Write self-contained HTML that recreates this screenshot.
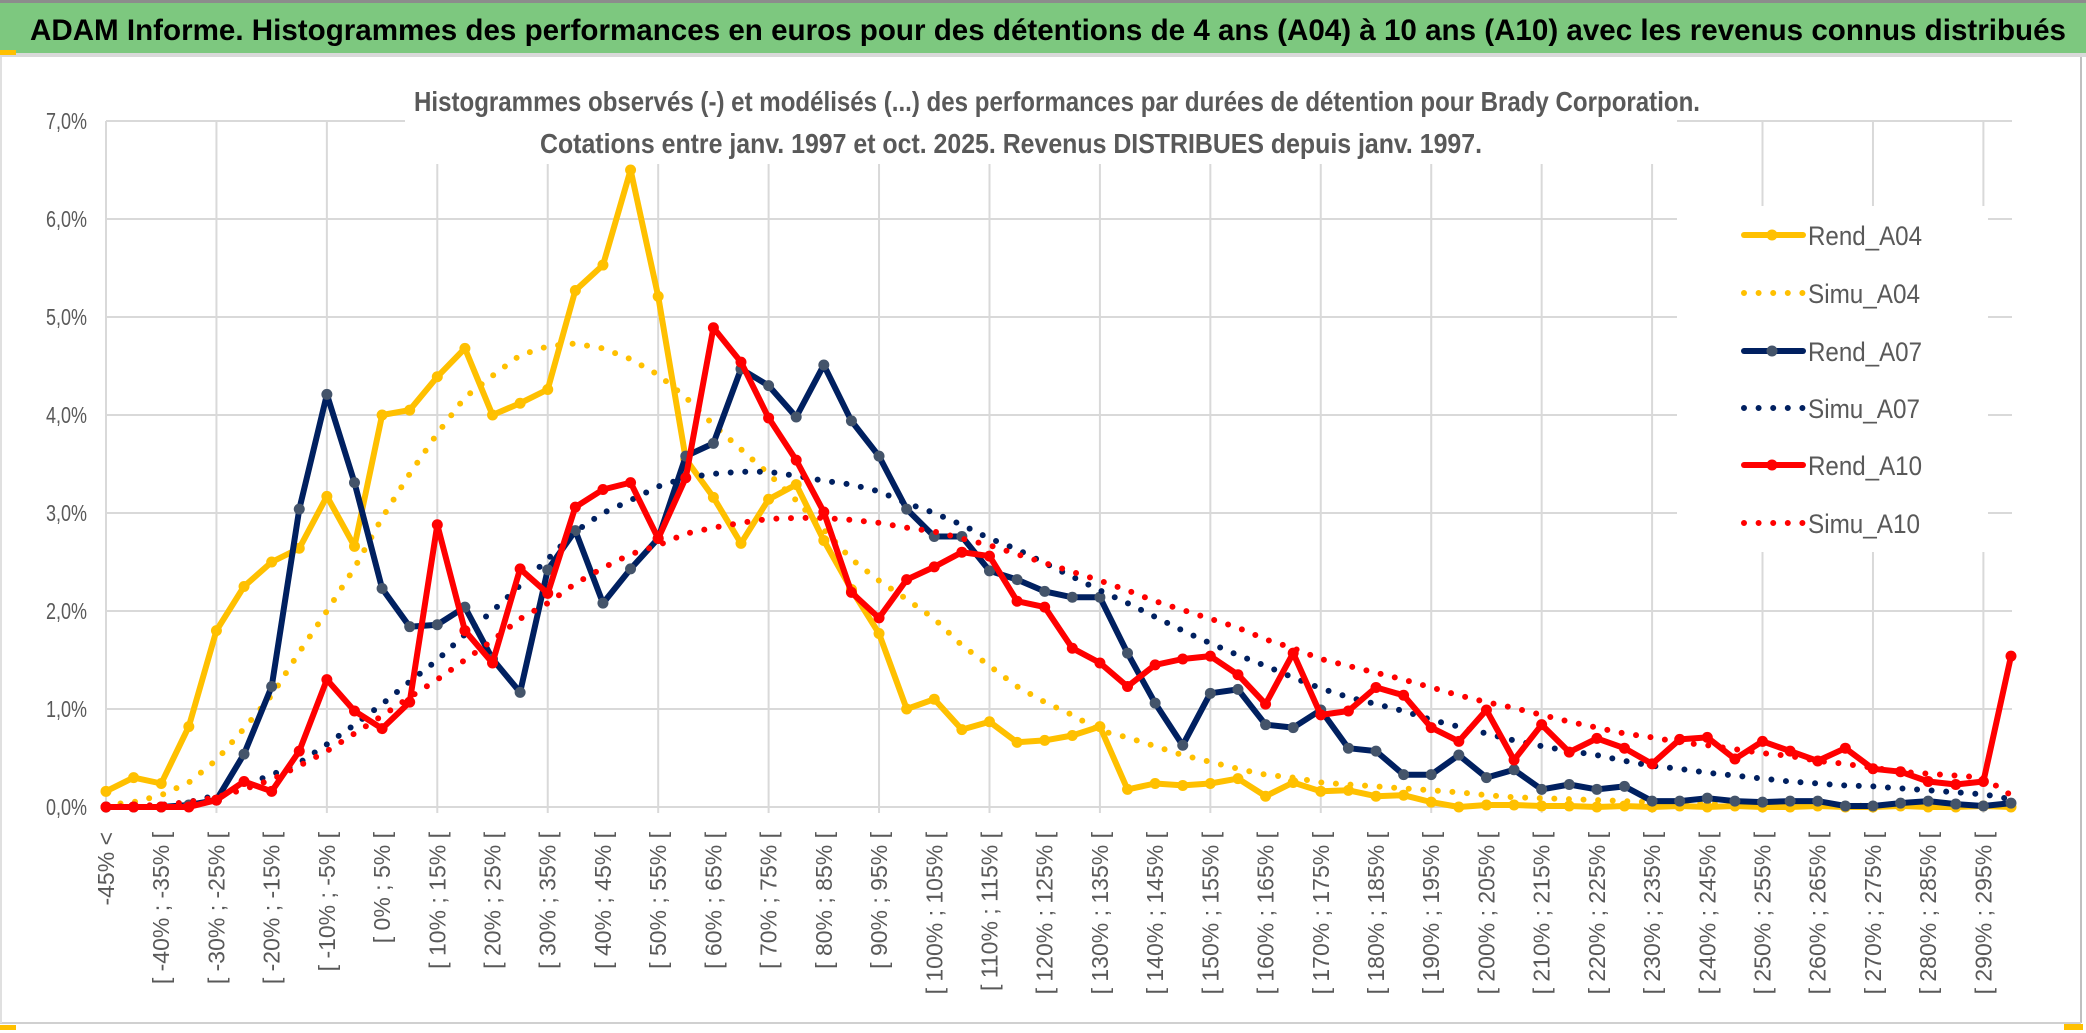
<!DOCTYPE html>
<html><head><meta charset="utf-8"><title>ADAM Informe - Brady Corporation</title>
<style>
html,body{margin:0;padding:0;background:#fff;}
svg{display:block;}
text{font-family:"Liberation Sans",sans-serif;}
</style></head>
<body>
<svg id="chart" width="2086" height="1033" viewBox="0 0 2086 1033" xmlns="http://www.w3.org/2000/svg">
  <rect x="0" y="0" width="2086" height="1033" fill="#fff"/>
  <rect x="0" y="0" width="2086" height="3" fill="#8c8c8c"/>
  <rect x="0" y="3" width="2086" height="50" fill="#7dc87f"/>
  <rect x="0" y="53" width="2086" height="4" fill="#d9d9d9"/>
  <rect x="0" y="50" width="16" height="5" fill="#ffc000"/>
  <text x="30" y="40" font-size="30" font-weight="bold" fill="#000" textLength="2036" lengthAdjust="spacingAndGlyphs">ADAM Informe. Histogrammes des performances en euros pour des détentions de 4 ans (A04) à 10 ans (A10) avec les revenus connus distribués</text>
  <line x1="2081" y1="57" x2="2081" y2="1023" stroke="#bfbfbf" stroke-width="2"/>
  <line x1="0" y1="1023" x2="2081" y2="1023" stroke="#d0d0d0" stroke-width="2"/>
  <line x1="1" y1="57" x2="1" y2="1023" stroke="#e0e0e0" stroke-width="2"/>
  <rect x="0" y="1025" width="16" height="5" fill="#ffc000"/>
  <rect x="2064" y="1024" width="19" height="6" fill="#ffc000"/>
  <g id="grid"></g>
  <g id="ylabels"></g>
  <g id="xlabels"></g>
  <rect x="405" y="78" width="1272" height="86" fill="#fff"/>
  <text x="414" y="111" font-size="28" font-weight="bold" fill="#595959" textLength="1286" lengthAdjust="spacingAndGlyphs">Histogrammes observés (-) et modélisés (...) des performances par durées de détention pour Brady Corporation.</text>
  <text x="540" y="153" font-size="28" font-weight="bold" fill="#595959" textLength="942" lengthAdjust="spacingAndGlyphs">Cotations entre janv. 1997 et oct. 2025. Revenus DISTRIBUES depuis janv. 1997.</text>
  <g id="series"></g>
  <rect x="1677" y="206" width="311" height="346" fill="#fff"/>
  <g id="legend"></g>
</svg>
<script>
const yTicks = ["0,0%","1,0%","2,0%","3,0%","4,0%","5,0%","6,0%","7,0%"];
const yTickValues = [0,1,2,3,4,5,6,7];
const categories = (function(){const c=["-45% <"];for(let i=1;i<70;i++){const a=-45+5*(i-1);c.push("[ "+a+"% ; "+(a+5)+"% [");}return c;})();
const rendA04 = [0.16,0.30,0.24,0.82,1.80,2.25,2.50,2.64,3.17,2.66,4.00,4.05,4.39,4.68,4.00,4.12,4.26,5.27,5.53,6.50,5.21,3.55,3.16,2.69,3.14,3.29,2.72,2.22,1.77,1.00,1.10,0.79,0.87,0.66,0.68,0.73,0.82,0.18,0.24,0.22,0.24,0.29,0.11,0.25,0.16,0.17,0.11,0.12,0.05,0.00,0.02,0.02,0.01,0.01,0.00,0.01,0.00,0.01,0.00,0.01,0.00,0.00,0.01,0.00,0.00,0.01,0.00,0.00,0.01,0.00];
const simuA04 = [0.02,0.05,0.12,0.25,0.48,0.80,1.14,1.58,2.00,2.44,2.95,3.40,3.81,4.18,4.40,4.61,4.70,4.73,4.68,4.57,4.41,4.18,3.90,3.65,3.40,3.13,2.83,2.53,2.31,2.12,1.92,1.65,1.44,1.23,1.07,0.94,0.78,0.71,0.62,0.53,0.46,0.39,0.33,0.30,0.25,0.23,0.21,0.19,0.17,0.15,0.12,0.10,0.09,0.08,0.07,0.06,0.05,0.04,0.035,0.03,0.025,0.02,0.02,0.015,0.01,0.01,0.01,0.01,0.01,0.005];
const rendA07 = [0,0,0,0.02,0.07,0.54,1.23,3.04,4.21,3.31,2.23,1.84,1.86,2.04,1.51,1.17,2.42,2.82,2.08,2.43,2.74,3.58,3.71,4.47,4.30,3.98,4.51,3.94,3.58,3.04,2.76,2.76,2.41,2.32,2.20,2.14,2.14,1.57,1.06,0.63,1.16,1.20,0.84,0.81,0.99,0.60,0.57,0.33,0.33,0.53,0.30,0.38,0.18,0.23,0.18,0.21,0.06,0.06,0.09,0.06,0.05,0.06,0.06,0.01,0.01,0.04,0.06,0.03,0.01,0.04];
const simuA07 = [0,0.01,0.02,0.05,0.12,0.22,0.33,0.45,0.64,0.84,1.05,1.28,1.50,1.76,2.00,2.26,2.53,2.81,3.00,3.13,3.27,3.36,3.40,3.42,3.42,3.38,3.33,3.29,3.22,3.10,3.00,2.88,2.74,2.63,2.49,2.35,2.21,2.08,1.94,1.80,1.67,1.55,1.44,1.32,1.21,1.12,1.05,0.98,0.89,0.82,0.75,0.68,0.62,0.57,0.53,0.47,0.42,0.39,0.35,0.32,0.29,0.26,0.24,0.22,0.21,0.19,0.17,0.15,0.13,0.08];
const rendA10 = [0,0,0,0,0.07,0.26,0.16,0.57,1.30,0.98,0.80,1.07,2.88,1.80,1.47,2.43,2.18,3.06,3.24,3.31,2.74,3.36,4.89,4.54,3.97,3.54,3.01,2.19,1.93,2.32,2.45,2.60,2.56,2.10,2.04,1.62,1.47,1.23,1.45,1.51,1.54,1.35,1.05,1.57,0.94,0.98,1.22,1.14,0.81,0.67,0.99,0.48,0.84,0.56,0.70,0.60,0.44,0.69,0.71,0.49,0.67,0.57,0.47,0.60,0.39,0.36,0.26,0.23,0.26,1.54];
const simuA10 = [0,0.01,0.02,0.05,0.10,0.18,0.28,0.42,0.57,0.75,0.93,1.12,1.30,1.50,1.70,1.92,2.08,2.28,2.44,2.58,2.67,2.79,2.85,2.90,2.94,2.95,2.95,2.93,2.90,2.85,2.81,2.74,2.67,2.58,2.49,2.40,2.31,2.21,2.10,2.01,1.92,1.83,1.71,1.62,1.51,1.44,1.37,1.30,1.22,1.14,1.07,1.01,0.94,0.87,0.81,0.75,0.71,0.66,0.63,0.59,0.55,0.52,0.47,0.44,0.40,0.36,0.34,0.32,0.30,0.12];
const seriesNames = ["Rend_A04","Simu_A04","Rend_A07","Simu_A07","Rend_A10","Simu_A10"];

const NS="http://www.w3.org/2000/svg";
const X0=106, X1=2011, Y0=807, YTOP=121, YMAX=7;
function xPos(i){return X0+(X1-X0)*i/(categories.length-1);}
function yPos(v){return Y0-(Y0-YTOP)*v/YMAX;}
function mk(tag,attrs,parent){const e=document.createElementNS(NS,tag);for(const k in attrs)e.setAttribute(k,attrs[k]);parent.appendChild(e);return e;}

const grid=document.getElementById('grid');
yTickValues.forEach(function(v){
  const l=mk('line',{x1:X0,y1:yPos(v),x2:X1+1,y2:yPos(v),stroke:'#d9d9d9','stroke-width':2},grid);
  
  
});
for(let i=0;i<categories.length;i+=4){
  const l=mk('line',{x1:xPos(i),y1:YTOP,x2:xPos(i),y2:Y0+6,stroke:'#d9d9d9','stroke-width':2},grid);
  
  
}
const yl=document.getElementById('ylabels');
yTickValues.forEach(function(v,k){
  const t=mk('text',{x:87,y:yPos(v)+8,'text-anchor':'end','font-size':23,fill:'#595959',textLength:41,lengthAdjust:'spacingAndGlyphs'},yl);
  t.textContent=yTicks[k];
  
  
});
const xl=document.getElementById('xlabels');
for(let i=0;i<categories.length;i+=2){
  const x=xPos(i)+8, y=832;
  const t=mk('text',{x:x,y:y,'text-anchor':'end','font-size':23,fill:'#595959',transform:'rotate(-90 '+x+' '+y+')'},xl);
  t.textContent=categories[i];
  
  
}

const styles=[
  {data:rendA04,color:'#ffc000',marker:'#ffc000',dotted:false},
  {data:simuA04,color:'#ffc000',dotted:true},
  {data:rendA07,color:'#002060',marker:'#44546a',dotted:false},
  {data:simuA07,color:'#002060',dotted:true},
  {data:rendA10,color:'#ff0000',marker:'#ff0000',dotted:false},
  {data:simuA10,color:'#ff0000',dotted:true}
];
const sg=document.getElementById('series');
styles.forEach(function(s,k){
  const g=mk('g',{},sg);
  
  
  const pts=s.data.map(function(v,i){return xPos(i).toFixed(1)+','+yPos(v).toFixed(1);}).join(' ');
  const attrs={points:pts,fill:'none',stroke:s.color,'stroke-width':6,'stroke-linejoin':'round','stroke-linecap':'round'};
  if(s.dotted){attrs['stroke-dasharray']='0 14.6';}
  const pl=mk('polyline',attrs,g);
  
  
  if(!s.dotted){
    s.data.forEach(function(v,i){
      const c=mk('circle',{cx:xPos(i),cy:yPos(v),r:5.5,fill:s.marker},g);
      
      
    });
  }
});

const lg=document.getElementById('legend');
const legendY=[235,293,351,408,465,523];
styles.forEach(function(s,k){
  const g=mk('g',{},lg);
  
  
  const y=legendY[k];
  if(s.dotted){
    const l=mk('line',{x1:1744,y1:y,x2:1804,y2:y,stroke:s.color,'stroke-width':6,'stroke-linecap':'round','stroke-dasharray':'0 14.6'},g);
    
    
  } else {
    const l=mk('line',{x1:1744,y1:y,x2:1803,y2:y,stroke:s.color,'stroke-width':6,'stroke-linecap':'round'},g);
    
    
    const c=mk('circle',{cx:1772,cy:y,r:5.5,fill:s.marker},g);
    
    
  }
  const t=mk('text',{x:1808,y:y+10,'font-size':27,fill:'#595959',textLength:(k%2===0?114:112),lengthAdjust:'spacingAndGlyphs'},g);
  t.textContent=seriesNames[k];
  
  
});
</script>
</body></html>
